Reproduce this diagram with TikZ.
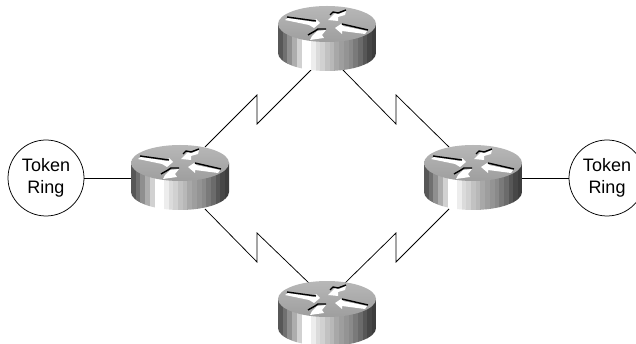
\documentclass[tikz,border=0pt]{standalone}
\usepackage{fontspec}
\setmainfont{Liberation Sans}
\usetikzlibrary{calc}
\tikzset{
  link/.style={draw=black,line width=0.75pt,line join=miter},
  ring/.style={circle,draw=black,line width=0.75pt,fill=white,minimum size=76pt,inner sep=0pt,align=center,font=\fontsize{18}{22}\selectfont},
  hub/.style={rectangle,draw=none,minimum width=98pt,minimum height=36pt,inner sep=0pt},
  arrowface/.style={fill=white,draw=none},
  arrowedge/.style={draw=black,line width=1.4pt,line cap=butt,line join=round}
}
\newcommand{\routerat}[3]{%
  \node[hub] (#1) at (#2,#3) {};
  \begin{scope}[shift={(#1)}]
    \begin{scope}
      \clip (-49,0) -- (-49,29) arc[start angle=180,end angle=0,x radius=49,y radius=18] -- (49,0) -- cycle;
      \foreach \i/\g in {0/34,1/44,2/56,3/68,4/82,5/100,6/100,7/93,8/86,9/82,10/76,11/72,12/66,13/62,14/58,15/54,16/48,17/42,18/34,19/28,20/24}{
        \fill[black!\the\numexpr100-\g\relax!white] ({-49+\i*4.7},-5) rectangle ({-49+\i*4.7+5},50);
      }
    \end{scope}
    \shade[top color=black!28,bottom color=black!38] (0,0) ellipse[x radius=49,y radius=18];
    % left outgoing arrow
    \fill[arrowface] (-39,-6) -- (-13,-2) -- (-11,-5) -- (-7,-1) -- (-13,4) -- (-18,1) -- (-42,-4) -- cycle;
    \draw[arrowedge] (-40,-7) -- (-11,-3);
    % upper right arrow
    \fill[arrowface] (19,-13) -- (18,-9) -- (11,-7) -- (11,-3) -- (1,-4) -- (8,-11) -- (12,-10) -- cycle;
    \draw[arrowedge] (3,-9) -- (6,-12) -- (11,-11) -- (19,-14);
    % right arrow
    \fill[arrowface] (40,7) -- (38,10) -- (15,7) -- (15,10) -- (8,4) -- (14,0) -- (16,2) -- cycle;
    \draw[arrowedge] (15,0) -- (41,6);
    % lower left arrow
    \fill[arrowface] (-1,6) -- (-5,11) -- (-3,14) -- (-17,16) -- (-15,12) -- (-10,7) -- cycle;
    \draw[arrowedge] (-19,11) -- (-12,7) -- (-9,5) -- (-1,5);
  \end{scope}
}
\begin{document}
\begin{tikzpicture}[x=1pt,y=-1pt]
  \path[clip] (0,0) rectangle (636,344);
  \fill[white] (0,0) rectangle (636,344);
  % invisible hubs give connectors their names
  \node[hub] (rl) at (180,163) {};
  \node[hub] (rt) at (327,24) {};
  \node[hub] (rr) at (473,163) {};
  \node[hub] (rb) at (327,299) {};
  \node[ring] (tl) at (46,178) {Token\\Ring};
  \node[ring] (tr) at (607,178) {Token\\Ring};
  \coordinate (tlz1) at (257,95);
  \coordinate (tlz2) at (257,124);
  \coordinate (trz1) at (396,124);
  \coordinate (trz2) at (396,95);
  \coordinate (blz1) at (257,262);
  \coordinate (blz2) at (257,233);
  \coordinate (brz1) at (396,233);
  \coordinate (brz2) at (396,262);
  \draw[link] (tl.east) -- (tl.east -| rl.west);
  \draw[link] (tr.west) -- (tr.west -| rr.east);
  \draw[link] (rl.center) ++(25,-16) -- (tlz1) -- (tlz2) -- ($(rt.center)+(-16,46)$);
  \draw[link] ($(rt.center)+(16,46)$) -- (trz1) -- (trz2) -- ($(rr.center)+(-24,-16)$);
  \draw[link] ($(rl.center)+(25,46)$) -- (blz1) -- (blz2) -- ($(rb.center)+(-16,-14)$);
  \draw[link] ($(rb.center)+(16,-14)$) -- (brz1) -- (brz2) -- ($(rr.center)+(-24,46)$);
  \routerat{rl}{180}{163}
  \routerat{rt}{327}{24}
  \routerat{rr}{473}{163}
  \routerat{rb}{327}{299}
\end{tikzpicture}
\end{document}
